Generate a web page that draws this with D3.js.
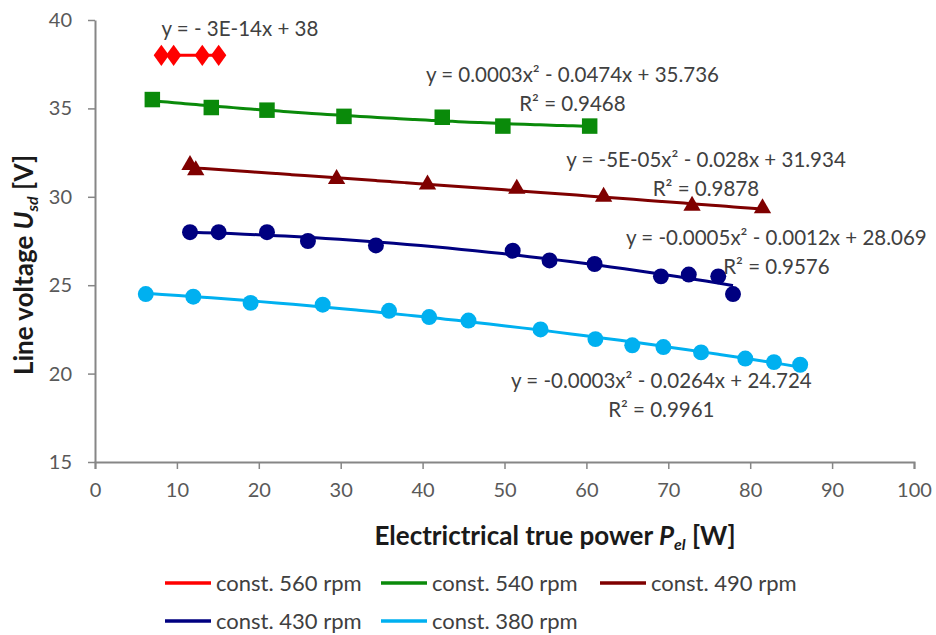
<!DOCTYPE html>
<html>
<head>
<meta charset="utf-8">
<script src="https://cdn.jsdelivr.net/npm/d3@7"></script>
<style>
  body { margin: 0; background: #fff; }
  svg { display: block; font-family: Lato, "Open Sans", sans-serif; }
</style>
</head>
<body>
<svg id="chart" width="936" height="635"></svg>
<script>
// series data, x = power [W], y = voltage [V]
const rpm560 = [[8.1, 38], [9.6, 38], [13.1, 38], [15.1, 38]];
const rpm540 = [[7.0, 35.5], [14.2, 35.05], [21.0, 34.9], [30.4, 34.55], [42.4, 34.5], [49.8, 34.0], [60.4, 34.0]];
const rpm490 = [[11.6, 31.8], [12.3, 31.5], [29.5, 31.0], [40.6, 30.7], [51.5, 30.45], [62.1, 30.0], [72.9, 29.5], [81.5, 29.35]];
const rpm430 = [[11.6, 28.0], [15.1, 28.0], [21.0, 28.0], [26.0, 27.5], [34.3, 27.25], [51.0, 26.95], [55.5, 26.4], [61.0, 26.2],
                [69.1, 25.5], [72.5, 25.6], [76.1, 25.5], [77.9, 24.5]];
const rpm380 = [[6.2, 24.5], [12.0, 24.35], [19.0, 24.0], [27.8, 23.9], [35.9, 23.55], [40.8, 23.2], [45.6, 23.0], [54.4, 22.5],
                [61.1, 21.95], [65.6, 21.6], [69.4, 21.5], [74.0, 21.2], [79.4, 20.85], [82.9, 20.65], [86.1, 20.5]];

const seriesNames = ["const. 560 rpm", "const. 540 rpm", "const. 490 rpm", "const. 430 rpm", "const. 380 rpm"];
const seriesColors = ["#ff0000", "#0a8a0a", "#7f0000", "#000080", "#00b0f0"];
const seriesMarkers = ["diamond", "square", "triangle", "circle", "circle"];
const trendOrder = [1, 2, 2, 2, 2];

const xTicks = [0, 10, 20, 30, 40, 50, 60, 70, 80, 90, 100];
const yTicks = [15, 20, 25, 30, 35, 40];

// trendline labels, centred at [x, y] (data units, y = baseline of first line)
const eqTexts = [
  ["y =  - 3E-14x + 38"],
  ["y = 0.0003x² - 0.0474x + 35.736", "R² = 0.9468"],
  ["y = -5E-05x² - 0.028x + 31.934", "R² = 0.9878"],
  ["y = -0.0005x² - 0.0012x + 28.069", "R² = 0.9576"],
  ["y = -0.0003x² - 0.0264x + 24.724", "R² = 0.9961"]
];
const eqAnchors = [[17.7, 39.1], [58.3, 36.49], [74.6, 31.7], [83.2, 27.27], [69.15, 19.17]];

const allSeries = [rpm560, rpm540, rpm490, rpm430, rpm380];

const svg = d3.select("#chart");
const x = d3.scaleLinear().domain([0, 100]).range([95, 914]);
const y = d3.scaleLinear().domain([15, 40]).range([462, 20]);

const axisColor = "#868686";
const textColor = "#404040";

// least squares polynomial fit (like excel's trendline), returns coefficients c0..cn
function polyFit(data, order) {
  const n = order + 1;
  const A = Array.from({ length: n }, () => new Array(n + 1).fill(0));
  data.forEach(([px, py]) => {
    for (let r = 0; r < n; r++) {
      for (let c = 0; c < n; c++) A[r][c] += Math.pow(px, r + c);
      A[r][n] += py * Math.pow(px, r);
    }
  });
  // gaussian elimination
  for (let i = 0; i < n; i++) {
    let p = i;
    for (let k = i + 1; k < n; k++) if (Math.abs(A[k][i]) > Math.abs(A[p][i])) p = k;
    [A[i], A[p]] = [A[p], A[i]];
    for (let k = i + 1; k < n; k++) {
      const f = A[k][i] / A[i][i];
      for (let c = i; c <= n; c++) A[k][c] -= f * A[i][c];
    }
  }
  const coef = new Array(n).fill(0);
  for (let i = n - 1; i >= 0; i--) {
    let s = A[i][n];
    for (let c = i + 1; c < n; c++) s -= A[i][c] * coef[c];
    coef[i] = s / A[i][i];
  }
  return coef;
}

// axes
const gx = svg.append("g")
  .attr("transform", `translate(0,${y(15)})`)
  .call(d3.axisBottom(x).tickValues(xTicks).tickSize(7).tickPadding(14).tickSizeOuter(7));
const gy = svg.append("g")
  .attr("transform", `translate(${x(0)},0)`)
  .call(d3.axisLeft(y).tickValues(yTicks).tickSize(7).tickPadding(16).tickSizeOuter(0));
[gx, gy].forEach(g => {
  g.select(".domain").attr("stroke", axisColor).attr("stroke-width", 2);
  g.selectAll(".tick line").attr("stroke", axisColor).attr("stroke-width", 1.5);
  g.selectAll(".tick text").attr("fill", "#595959").style("font-size", "20px").style("font-family", "Lato");
});

// trendlines
const line = d3.line().x(d => x(d[0])).y(d => y(d[1])).curve(d3.curveMonotoneX);
allSeries.forEach((data, i) => {
  const coef = polyFit(data, trendOrder[i]);
  const [lo, hi] = d3.extent(data, d => d[0]);
  const pts = d3.range(0, 41).map(k => {
    const px = lo + (hi - lo) * k / 40;
    return [px, coef.reduce((s, c, j) => s + c * Math.pow(px, j), 0)];
  });
  svg.append("path")
    .datum(pts)
    .attr("fill", "none")
    .attr("stroke", seriesColors[i])
    .attr("stroke-width", 3)
    .attr("d", line);
});

// markers
const symbolFor = {
  diamond: d3.symbol().type(d3.symbolDiamond).size(130),
  square: d3.symbol().type(d3.symbolSquare).size(240),
  triangle: d3.symbol().type(d3.symbolTriangle).size(130),
  circle: d3.symbol().type(d3.symbolCircle).size(200)
};
allSeries.forEach((data, i) => {
  svg.append("g").selectAll("path")
    .data(data)
    .join("path")
    .attr("transform", d => `translate(${x(d[0])},${y(d[1])})` + (seriesMarkers[i] === "diamond" ? " scale(1.25,1)" : ""))
    .attr("d", symbolFor[seriesMarkers[i]])
    .attr("fill", seriesColors[i]);
});

// trendline equations
eqTexts.forEach((lines, i) => {
  const t = svg.append("text")
    .attr("text-anchor", "middle")
    .attr("fill", textColor)
    .style("font-size", "20.5px");
  lines.forEach((s, j) => {
    t.append("tspan")
      .attr("x", x(eqAnchors[i][0]))
      .attr("y", y(eqAnchors[i][1]) + j * 29)
      .text(s);
  });
});

// axis titles
const xt = svg.append("text")
  .attr("x", 555).attr("y", 545)
  .attr("text-anchor", "middle")
  .attr("fill", "#1a1a1a")
  .style("font-size", "26px").style("font-weight", "bold");
xt.append("tspan").text("Electrictrical true power ");
xt.append("tspan").style("font-style", "italic").text("P");
xt.append("tspan").style("font-style", "italic").style("font-size", "16px").attr("dy", 5).text("el");
xt.append("tspan").attr("dy", -5).text(" [W]");

const yt = svg.append("text")
  .attr("transform", "translate(33,265) rotate(-90)")
  .attr("text-anchor", "middle")
  .attr("fill", "#1a1a1a")
  .style("font-size", "26px").style("font-weight", "bold");
yt.append("tspan").text("Line voltage ");
yt.append("tspan").style("font-style", "italic").text("U");
yt.append("tspan").style("font-style", "italic").style("font-size", "16px").attr("dy", 5).text("sd");
yt.append("tspan").attr("dy", -5).text(" [V]");

// legend
const legendPos = [[165, 583], [381, 583], [600, 583], [165, 621], [381, 621]];
seriesNames.forEach((name, i) => {
  const g = svg.append("g").attr("transform", `translate(${legendPos[i][0]},${legendPos[i][1]})`);
  g.append("line").attr("x1", 0).attr("x2", 46)
    .attr("stroke", seriesColors[i]).attr("stroke-width", 3.5);
  g.append("text").attr("x", 51).attr("dy", "0.35em")
    .attr("fill", textColor).style("font-size", "22px").text(name);
});
</script>
</body>
</html>
